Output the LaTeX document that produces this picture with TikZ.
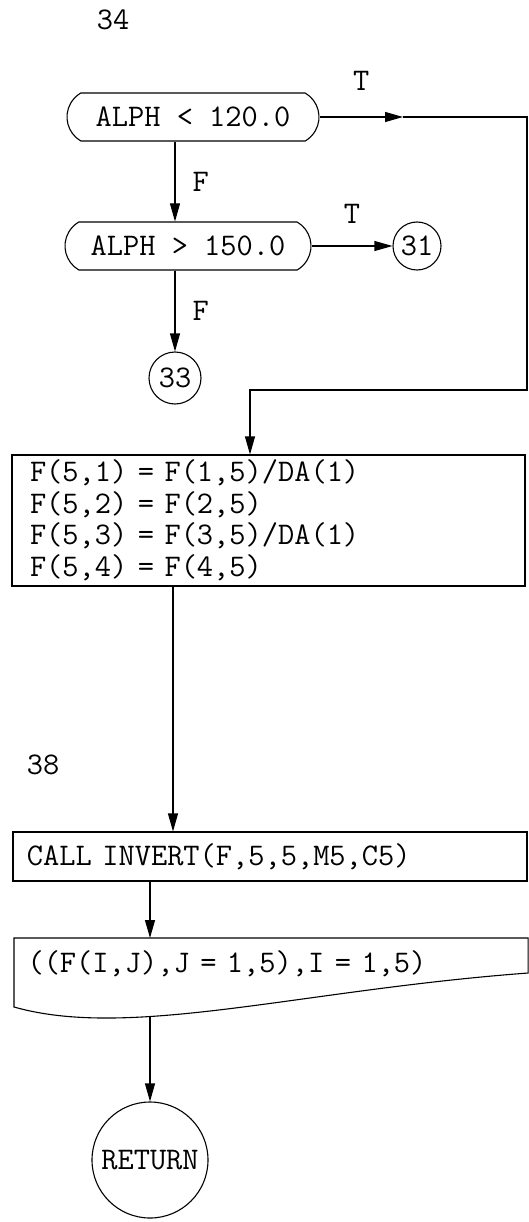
\documentclass[tikz,border=0pt]{standalone}
\usetikzlibrary{arrows.meta,shapes.misc}
\begin{document}
\begin{tikzpicture}
  [x=1pt,y=-1pt,line width=1.1pt,
   every node/.style={font=\fontsize{31.5}{31.5}\selectfont\ttfamily},
   arr/.style={-{Triangle[length=18pt,width=10pt]}},
   termbox/.style={draw,rounded rectangle,rounded rectangle arc length=120,minimum height=48pt,inner sep=0pt},
   procbox/.style={draw,rectangle,align=left,inner ysep=0pt},
   conn/.style={draw,circle,inner sep=0pt},
   lbl/.style={inner sep=0pt}]
\useasboundingbox (0,0) rectangle (528,1222);
  \node (num34) at (113,20) {34};
  \node[termbox,minimum width=252pt] (alph1) at (193,117) {ALPH < 120.0};
  \node[termbox,minimum width=246pt] (alph2) at (188,246) {ALPH > 150.0};
  \node[conn,minimum size=48pt] (c31) at (417,246) {31};
  \node[conn,minimum size=52pt] (c33) at (175,378) {33};
  \node[procbox,minimum height=131pt,text width=477pt,inner xsep=18pt] (fbox) at (268.5,520.5)
    {F(5,1) = F(1,5)/DA(1)\\F(5,2) = F(2,5)\\F(5,3) = F(3,5)/DA(1)\\F(5,4) = F(4,5)};
  \node (num38) at (43,765) {38};
  \node[procbox,minimum height=49pt,text width=486pt,inner xsep=14pt] (callbox) at (270,856.5)
    {CALL INVERT(F,5,5,M5,C5)};
  \node[procbox,draw=none,anchor=north west,minimum height=50pt,text width=487pt,inner xsep=13pt] (outbox) at (14,938)
    {((F(I,J),J = 1,5),I = 1,5)};
  \node[conn,minimum size=116pt] (ret) at (150,1160) {RETURN};

  % output symbol outline
  \draw (outbox.north west) -- (outbox.north east) -- ([yshift=-35pt]outbox.north east)
    .. controls (300,990) and (130,1040) .. coordinate[pos=0.7] (outlow) ([yshift=-69pt]outbox.north west) -- cycle;

  \coordinate (ttip) at (403,117);
  \coordinate (tcorner) at (527,117);
  \coordinate (tdown) at (527,390);
  \coordinate (tleft) at (250,390);
  \coordinate (fout) at ([xshift=-95.5pt]fbox.south);

  \draw[arr] (alph1.east) -- node[lbl,above=26pt] {T} (ttip);
  \draw[arr] (ttip) -- (tcorner) -- (tdown) -- (tleft) -- (tleft |- fbox.north);
  \draw[arr] (alph1.south -| c33) -- node[lbl,right=17pt] {F} (alph2.north -| c33);
  \draw[arr] (alph2.east) -- node[lbl,above=22pt] {T} (c31);
  \draw[arr] (alph2.south -| c33) -- node[lbl,right=17pt] {F} (c33);

  \foreach \from/\to in {fout/fout |- callbox.north, callbox.south -| ret/outbox.north -| ret, outlow -| ret/ret}
    \draw[arr] (\from) -- (\to);
\end{tikzpicture}
\end{document}
